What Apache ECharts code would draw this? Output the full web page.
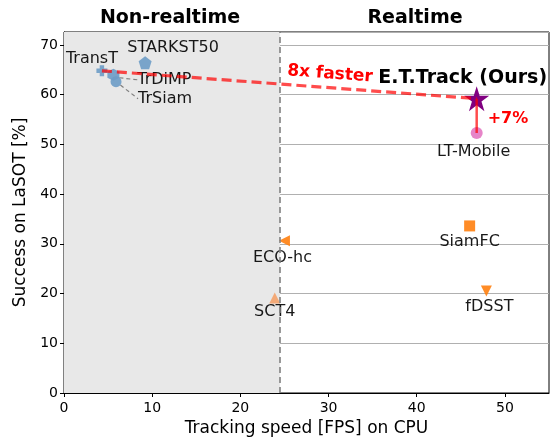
<!DOCTYPE html>
<html><head><meta charset="utf-8">
<script src="https://cdn.jsdelivr.net/npm/echarts@6/dist/echarts.min.js"></script>
<style>html,body{margin:0;padding:0;background:#fff}#c{width:552px;height:437px}</style>
</head><body><div id="c"></div>
<script>
// ---- data ----
const trackers = ['TransT','STARKST50','TrDiMP','TrSiam','E.T.Track (Ours)','LT-Mobile','SiamFC','ECO-hc','SCT4','fDSST'];
const fps      = [4.3, 9.2, 5.6, 5.9, 46.8, 46.8, 46.0, 25.0, 23.9, 47.9];
const success  = [64.8, 66.4, 64.0, 62.6, 59.2, 52.3, 33.6, 30.6, 19.1, 20.5];
const xTicks = [0,10,20,30,40,50];
const yTicks = [0,10,20,30,40,50,60,70];
const realtimeThreshold = 24.5;
const regionLabels = ['Non-realtime','Realtime'];
const annotations = ['8x faster','+7%'];

// ---- styles ----
const FONT = 'DejaVu Sans';
const plusPath = 'path://M3,0 L7,0 L7,3 L10,3 L10,7 L7,7 L7,10 L3,10 L3,7 L0,7 L0,3 L3,3 Z';
const pentPath = 'path://M50,0 L97.6,34.5 L79.4,90.5 L20.6,90.5 L2.4,34.5 Z';
const hexPath  = 'path://M50,0 L93.3,25 L93.3,75 L50,100 L6.7,75 L6.7,25 Z';
const starPath = 'path://M50,0 L61.2,34.5 L97.6,34.5 L68.2,55.9 L79.4,90.5 L50,69.1 L20.6,90.5 L31.8,55.9 L2.4,34.5 L38.8,34.5 Z';
const style = {
  'TransT':           {symbol: plusPath, size: 11, color: '#6d9cc6', dx: -10, dy: -12},
  'STARKST50':        {symbol: pentPath, size: 13, color: '#6d9cc6', dx: 28, dy: -15},
  'TrDiMP':           {symbol: hexPath,  size: 12, color: '#6d9cc6', dx: 51, dy: 5, line: true},
  'TrSiam':           {symbol: 'circle', size: 11, color: '#6d9cc6', dx: 49, dy: 17, line: true},
  'E.T.Track (Ours)': {symbol: starPath, size: 25, color: '#800080', dx: -14, dy: -21, bold: true, fs: 19},
  'LT-Mobile':        {symbol: 'circle', size: 12, color: '#e377c2', dx: -3, dy: 19},
  'SiamFC':           {symbol: 'rect',   size: 11, color: '#ff7f0e', dx: 0, dy: 16},
  'ECO-hc':           {symbol: 'triangle', size: 11, color: '#ff7f0e', rot: 90, dx: -2, dy: 17},
  'SCT4':             {symbol: 'triangle', size: 11, color: '#f4a26a', dx: 0, dy: 14},
  'fDSST':            {symbol: 'triangle', size: 11, color: '#ff7f0e', rot: 180, dx: 3, dy: 16}
};

const pts = trackers.map((n, i) => {
  const s = style[n];
  return {
    name: n, value: [fps[i], success[i]],
    symbol: s.symbol, symbolSize: s.size, symbolRotate: s.rot || 0,
    itemStyle: {color: s.color, opacity: s.color === '#800080' ? 1 : 0.9},
    label: {show: true, formatter: n, position: 'inside', color: '#000',
            fontFamily: FONT, fontSize: s.fs || 16, fontWeight: s.bold ? 'bold' : 'normal'},
    labelLine: {show: !!s.line, lineStyle: {color: '#808080', type: [4,3], width: 1.2}, smooth: false}
  };
});

const iT = trackers.indexOf('TransT'), iE = trackers.indexOf('E.T.Track (Ours)'), iL = trackers.indexOf('LT-Mobile');

const chart = echarts.init(document.getElementById('c'), null, {renderer: 'canvas'});
const option = {
  animation: false,
  textStyle: {fontFamily: FONT},
  grid: {left: 64, right: 3, top: 32, bottom: 44, containLabel: false, outerBoundsMode: 'none',
         show: true, borderColor: '#000', borderWidth: 1, backgroundColor: 'transparent'},
  xAxis: {type: 'value', min: 0, max: 55, interval: 10,
    name: 'Tracking speed [FPS] on CPU', nameLocation: 'middle', nameGap: 25,
    nameTextStyle: {fontFamily: FONT, fontSize: 17, color: '#000'},
    axisLine: {show: true, lineStyle: {color: '#000', width: 1}},
    axisTick: {show: true, length: 4, lineStyle: {color: '#000'}},
    axisLabel: {color: '#000', fontFamily: FONT, fontSize: 14, margin: 8, showMaxLabel: false,
      formatter: v => xTicks.includes(v) ? String(v) : ''},
    splitLine: {show: false}},
  yAxis: {type: 'value', min: 0, max: 72.6, interval: 10,
    name: 'Success on LaSOT [%]', nameLocation: 'middle', nameGap: 34,
    nameTextStyle: {fontFamily: FONT, fontSize: 17, color: '#000'},
    axisLine: {show: true, lineStyle: {color: '#000', width: 1}},
    axisTick: {show: true, length: 4, lineStyle: {color: '#000'}},
    axisLabel: {color: '#000', fontFamily: FONT, fontSize: 14, margin: 6, showMaxLabel: false,
      formatter: v => yTicks.includes(v) ? String(v) : ''},
    splitLine: {show: true, lineStyle: {color: '#b0b0b0', width: 1}}},
  title: [
    {text: regionLabels[0], left: 165, top: 4, textAlign: 'center',
     textStyle: {fontFamily: FONT, fontSize: 19, fontWeight: 'bold', color: '#000'}},
    {text: regionLabels[1], left: 410, top: 4, textAlign: 'center',
     textStyle: {fontFamily: FONT, fontSize: 19, fontWeight: 'bold', color: '#000'}}
  ],
  series: [
    {type: 'scatter', z: 1, data: [], silent: true,
     markArea: {silent: true, itemStyle: {color: '#e8e8e8'}, data: [[{xAxis: 0}, {xAxis: realtimeThreshold}]]},
     markLine: {silent: true, symbol: 'none', label: {show: false},
       lineStyle: {color: '#808080', type: [6,4], width: 1.6}, data: [{xAxis: realtimeThreshold}]}},
    {type: 'scatter', z: 3, data: pts,
     labelLayout: p => {
       const s = style[trackers[p.dataIndex]];
       return {dx: s.dx, dy: s.dy};
     }},
    {type: 'line', z: 5, symbol: 'none', silent: true,
     lineStyle: {color: 'rgba(255,0,0,0.7)', width: 3.2, type: [10,5]},
     data: [[fps[iT], success[iT]], [fps[iE], success[iE]]]},
    {type: 'line', z: 5, symbol: 'none', silent: true,
     lineStyle: {color: 'rgba(255,0,0,0.7)', width: 2.5, type: 'solid'},
     data: [[fps[iE], success[iE]], [fps[iL], success[iL]]]}
  ]
};
chart.setOption(option);

// annotations positioned relative to the data through the axes
const pT = chart.convertToPixel({gridIndex: 0}, [fps[iT], success[iT]]);
const pE = chart.convertToPixel({gridIndex: 0}, [fps[iE], success[iE]]);
const pL = chart.convertToPixel({gridIndex: 0}, [fps[iL], success[iL]]);
const ang = Math.atan2(-(pE[1] - pT[1]), pE[0] - pT[0]);
chart.setOption({graphic: [
  {type: 'text', x: 330, y: 74, rotation: ang, z: 10,
   style: {text: annotations[0], fill: '#ff0000', font: 'bold 17px "DejaVu Sans"', textAlign: 'center', textVerticalAlign: 'middle'}},
  {type: 'text', x: pE[0] + 11, y: (pE[1] + pL[1]) / 2 + 3, z: 10,
   style: {text: annotations[1], fill: '#ff0000', font: 'bold 16px "DejaVu Sans"', textAlign: 'left', textVerticalAlign: 'middle'}}
]});
</script></body></html>
